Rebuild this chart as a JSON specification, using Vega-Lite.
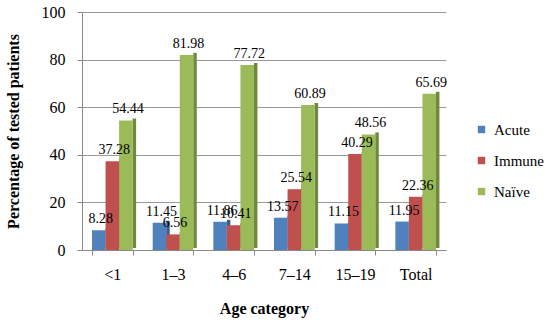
{
  "$schema": "https://vega.github.io/schema/vega-lite/v6.json",
  "autosize": {"type": "none"},
  "padding": {"left": 82, "top": 12, "right": 104, "bottom": 76},
  "width": 364,
  "height": 238,
  "background": "white",
  "config": {
    "font": "Liberation Serif",
    "view": {"stroke": null}
  },
  "data": {
    "values": [
      {"age": "<1", "type": "Acute", "value": 8.28},
      {"age": "<1", "type": "Immune", "value": 37.28},
      {"age": "<1", "type": "Naïve", "value": 54.44},
      {"age": "1–3", "type": "Acute", "value": 11.45},
      {"age": "1–3", "type": "Immune", "value": 6.56},
      {"age": "1–3", "type": "Naïve", "value": 81.98},
      {"age": "4–6", "type": "Acute", "value": 11.86},
      {"age": "4–6", "type": "Immune", "value": 10.41},
      {"age": "4–6", "type": "Naïve", "value": 77.72},
      {"age": "7–14", "type": "Acute", "value": 13.57},
      {"age": "7–14", "type": "Immune", "value": 25.54},
      {"age": "7–14", "type": "Naïve", "value": 60.89},
      {"age": "15–19", "type": "Acute", "value": 11.15},
      {"age": "15–19", "type": "Immune", "value": 40.29},
      {"age": "15–19", "type": "Naïve", "value": 48.56},
      {"age": "Total", "type": "Acute", "value": 11.95},
      {"age": "Total", "type": "Immune", "value": 22.36},
      {"age": "Total", "type": "Naïve", "value": 65.69}
    ]
  },
  "encoding": {
    "x": {
      "field": "age",
      "type": "nominal",
      "sort": ["<1", "1–3", "4–6", "7–14", "15–19", "Total"],
      "scale": {"paddingInner": 0.33, "paddingOuter": 0.165},
      "axis": {
        "title": "Age category",
        "titleFont": "Liberation Serif",
        "titleFontSize": 16,
        "titleFontWeight": "bold",
        "titleColor": "black",
        "titlePadding": 18,
        "labelAngle": 0,
        "labelFont": "Liberation Serif, DejaVu Serif, serif",
        "labelFontWeight": "normal",
        "labelFontSize": 16,
        "labelColor": "black",
        "labelPadding": 11,
        "tickBand": "extent",
        "tickColor": "#888888",
        "domainColor": "#888888",
        "tickSize": 5
      }
    },
    "y": {
      "field": "value",
      "type": "quantitative",
      "scale": {"domain": [0, 100]},
      "axis": {
        "title": "Percentage of tested patients",
        "titleFont": "Liberation Serif",
        "titleFontSize": 16,
        "titleFontWeight": "bold",
        "titleColor": "black",
        "titlePadding": 20,
        "values": [0, 20, 40, 60, 80, 100],
        "labelFont": "Liberation Serif, DejaVu Serif, serif",
        "labelFontWeight": "normal",
        "labelFontSize": 16,
        "labelColor": "black",
        "labelPadding": 12,
        "tickSize": 5,
        "tickColor": "#888888",
        "domainColor": "#888888",
        "gridColor": "#999999",
        "gridWidth": 1
      }
    }
  },
  "layer": [
    {
      "mark": {"type": "bar", "yOffset": -2},
      "encoding": {
        "xOffset": {
          "field": "type",
          "type": "nominal",
          "scale": {"range": [13.54, 44.1], "paddingInner": 0.74, "paddingOuter": 0, "align": 0}
        },
        "color": {
          "field": "type",
          "type": "nominal",
          "scale": {"domain": ["Acute", "Immune", "Naïve"], "range": ["#3A5F8C", "#8E3B38", "#71893F"]},
          "legend": null
        }
      }
    },
    {
      "mark": {"type": "bar"},
      "encoding": {
        "xOffset": {"field": "type", "type": "nominal", "scale": {"paddingInner": 0}},
        "color": {
          "field": "type",
          "type": "nominal",
          "scale": {"domain": ["Acute", "Immune", "Naïve"], "range": ["#4F81BD", "#C0504D", "#9BBB59"]},
          "legend": {
            "title": null,
            "orient": "none",
            "legendX": 392,
            "legendY": 110,
            "symbolType": "square",
            "symbolSize": 55,
            "labelFont": "Liberation Serif, DejaVu Serif, serif",
            "labelFontWeight": "normal",
            "labelFontSize": 15,
            "labelColor": "black",
            "rowPadding": 15,
            "labelOffset": 5
          }
        }
      }
    },
    {
      "mark": {"type": "text", "baseline": "bottom", "dy": -4, "dx": 2, "fontSize": 14, "font": "Liberation Serif, DejaVu Serif, serif", "fontWeight": "normal", "color": "black"},
      "encoding": {
        "xOffset": {"field": "type", "type": "nominal", "scale": {"paddingInner": 0}},
        "text": {"field": "value", "type": "quantitative", "format": ".2f"}
      }
    }
  ],
  "resolve": {"scale": {"color": "independent", "xOffset": "independent"}}
}
